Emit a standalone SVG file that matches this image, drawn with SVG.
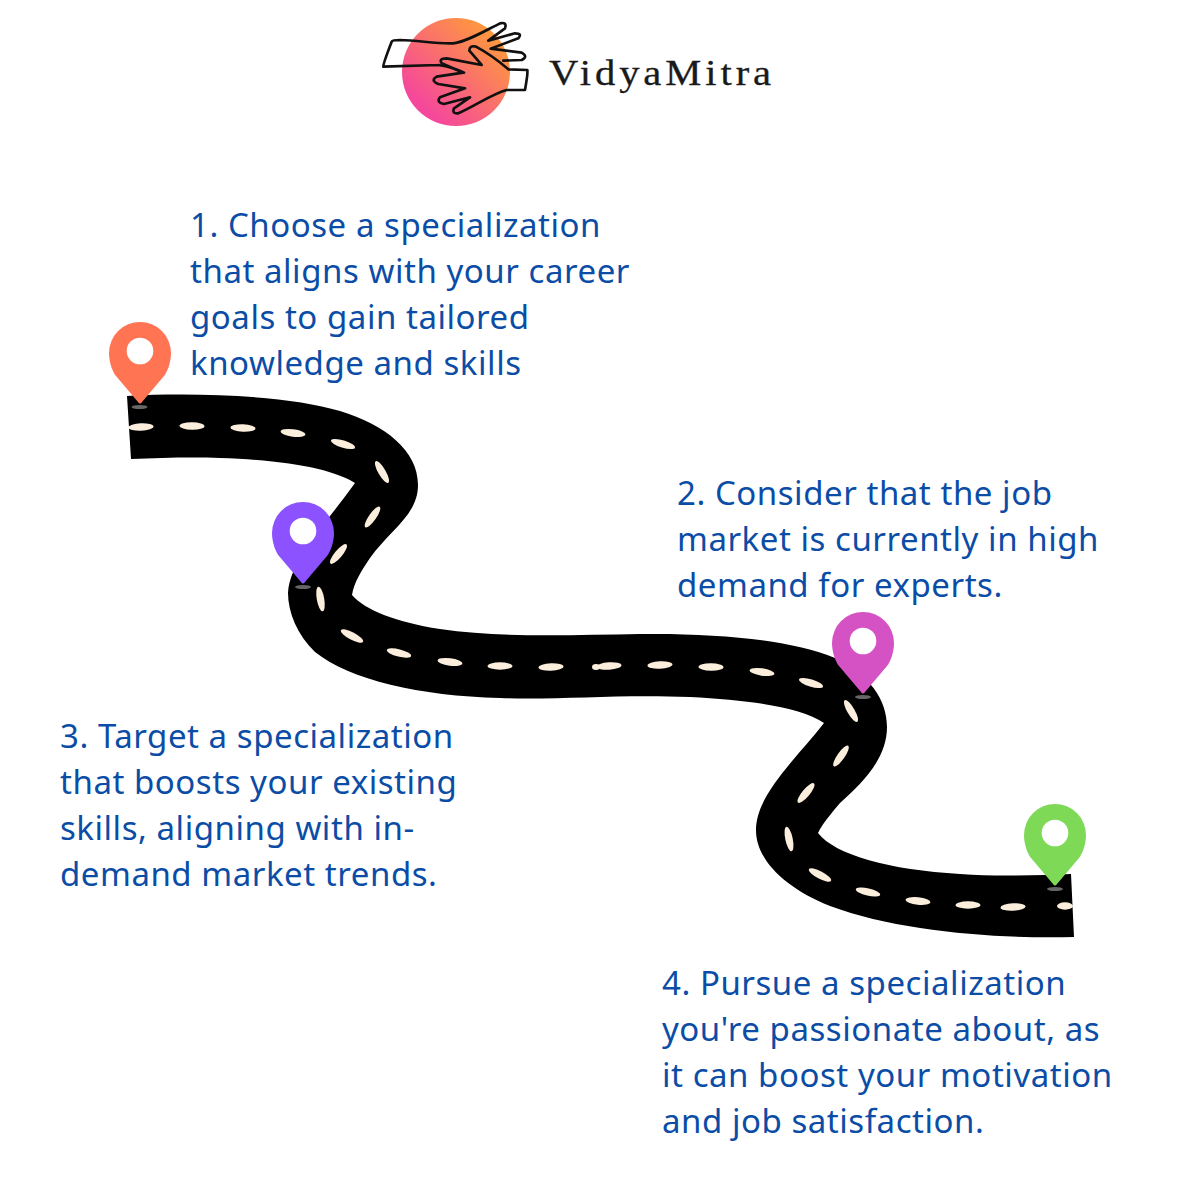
<svg xmlns="http://www.w3.org/2000/svg" width="1200" height="1200" viewBox="0 0 1200 1200">
<style>
.t{font-family:"Noto Sans","Open Sans",sans-serif;font-size:33px;letter-spacing:.54px;fill:#0b4da6}
.h{fill:none;stroke:#111;stroke-width:8;stroke-linejoin:round;stroke-linecap:round}
.hole{fill:#fff}
.sh{fill:#666}
#dashes{fill:#fbeedd}
</style>
<defs>
<linearGradient id="g" x1="0.1" y1="0.9" x2="0.9" y2="0.1"><stop offset="0.1" stop-color="#f5479c"/><stop offset="0.95" stop-color="#ff9a3c"/></linearGradient>
<path id="pin" d="M-2 40L-24 14C-27 10.500-31 1-31-9A31 31 0 0 1 31-9C31 1 27 10.500 24 14L2 40Q0 43-2 40Z"/>
<ellipse id="dash" rx="12.500" ry="3.700"/>
</defs>
<rect width="1200" height="1200" fill="#fff"/>
<g id="logo">
<circle cx="456" cy="72" r="54" fill="url(#g)"/>
<g transform="translate(370 10) scale(.3333)">
<path class="h" d="M205 165L40 170Q38 165 65 95Q68 90 90 90C150 92 200 102 250 100C290 95 340 65 390 40Q412 35 405 55L355 92L435 70Q458 70 445 85L362 116L455 128Q476 140 455 150L400 152M205 165Q250 172 282 188"/>
<path class="h" d="M415 178L472 180Q474 190 465 240H410C370 250 320 285 265 310Q245 312 252 295L300 262L222 282Q198 278 210 262L285 235L205 222Q180 212 200 200L280 188L215 160Q205 145 230 145L335 165L298 122Q298 105 318 110Q365 135 415 178"/>
</g>
<text x="549" y="85" font-family="Liberation Serif,serif" font-size="36" letter-spacing="3.500" textLength="226" lengthAdjust="spacingAndGlyphs" fill="#1a1a1a" stroke="#1a1a1a" stroke-width=".3">VidyaMitra</text>
</g>
<g id="road">
<path fill="#000" d="M127 396C200 392 290 396 340 411C385 425 418 450 418 485C418 515 390 530 370 558C362 570 354 582 352 595C365 610 395 622 440 629C500 638 570 635 640 634C720 633 790 640 835 658C870 675 887 700 887 727C887 760 860 785 840 803C830 815 823 823 818 833C835 855 890 870 960 874C1000 877 1040 875 1071 874L1074 937C1000 939 900 932 830 906C785 888 756 860 756 830C756 795 795 760 824 723C800 707 750 700 690 697C620 694 560 700 500 698C420 696 350 680 315 652C297 635 288 612 288 593C290 560 325 525 355 483C335 470 290 460 220 458C190 457 160 458 131 459Z"/>
<g id="dashes">
<use href="#dash" transform="translate(141 427) rotate(-2)"/>
<use href="#dash" transform="translate(192 426) rotate(1)"/>
<use href="#dash" transform="translate(243 428) rotate(2)"/>
<use href="#dash" transform="translate(293 433) rotate(7)"/>
<use href="#dash" transform="translate(343 444) rotate(17)"/>
<use href="#dash" transform="translate(382 472) rotate(60)"/>
<use href="#dash" transform="translate(372.500 517) rotate(-55)"/>
<use href="#dash" transform="translate(338.500 554) rotate(-50)"/>
<use href="#dash" transform="translate(320.500 599) rotate(80)"/>
<use href="#dash" transform="translate(352 636) rotate(28)"/>
<use href="#dash" transform="translate(399 653) rotate(14)"/>
<use href="#dash" transform="translate(450 662) rotate(7)"/>
<use href="#dash" transform="translate(500 666)"/>
<use href="#dash" transform="translate(551 667) rotate(-2)"/>
<ellipse cx="596" cy="667" rx="4" ry="3"/>
<use href="#dash" transform="translate(609 666) rotate(-4)"/>
<use href="#dash" transform="translate(660 665) rotate(-3)"/>
<use href="#dash" transform="translate(711 667) rotate(1)"/>
<use href="#dash" transform="translate(762 672) rotate(8)"/>
<use href="#dash" transform="translate(811 683) rotate(17)"/>
<use href="#dash" transform="translate(851 711) rotate(60)"/>
<use href="#dash" transform="translate(841 756) rotate(-55)"/>
<use href="#dash" transform="translate(806 793) rotate(-50)"/>
<use href="#dash" transform="translate(789 839) rotate(78)"/>
<use href="#dash" transform="translate(820 875) rotate(28)"/>
<use href="#dash" transform="translate(868 892) rotate(13)"/>
<use href="#dash" transform="translate(918 901) rotate(6)"/>
<use href="#dash" transform="translate(968 905)"/>
<use href="#dash" transform="translate(1013 907) rotate(-3)"/>
<ellipse cx="1065" cy="906" rx="8" ry="3.700"/>
</g>
</g>
<g id="step1">
<ellipse class="sh" cx="139.500" cy="407" rx="8" ry="2"/>
<use href="#pin" x="140" y="362" fill="#ff7452"/>
<circle class="hole" cx="140" cy="351" r="13.300"/>
<text class="t"><tspan x="190" y="237">1. Choose a specialization</tspan><tspan x="190" y="283">that aligns with your career</tspan><tspan x="190" y="329">goals to gain tailored</tspan><tspan x="190" y="375">knowledge and skills</tspan></text>
</g>
<g id="step2">
<ellipse class="sh" cx="863" cy="697" rx="8" ry="2"/>
<use href="#pin" x="863" y="652" fill="#d552c5"/>
<circle class="hole" cx="863" cy="641" r="13.300"/>
<text class="t"><tspan x="677" y="505">2. Consider that the job</tspan><tspan x="677" y="551">market is currently in high</tspan><tspan x="677" y="597">demand for experts.</tspan></text>
</g>
<g id="step3">
<ellipse class="sh" cx="303" cy="587" rx="8" ry="2"/>
<use href="#pin" x="303" y="542" fill="#8c52ff"/>
<circle class="hole" cx="303" cy="531" r="13.300"/>
<text class="t"><tspan x="60" y="748">3. Target a specialization</tspan><tspan x="60" y="794">that boosts your existing</tspan><tspan x="60" y="840">skills, aligning with in-</tspan><tspan x="60" y="886">demand market trends.</tspan></text>
</g>
<g id="step4">
<ellipse class="sh" cx="1055" cy="889" rx="8" ry="2"/>
<use href="#pin" x="1055" y="844" fill="#7ed957"/>
<circle class="hole" cx="1055" cy="833" r="13.300"/>
<text class="t"><tspan x="662" y="995">4. Pursue a specialization</tspan><tspan x="662" y="1041">you're passionate about, as</tspan><tspan x="662" y="1087">it can boost your motivation</tspan><tspan x="662" y="1133">and job satisfaction.</tspan></text>
</g>
</svg>
